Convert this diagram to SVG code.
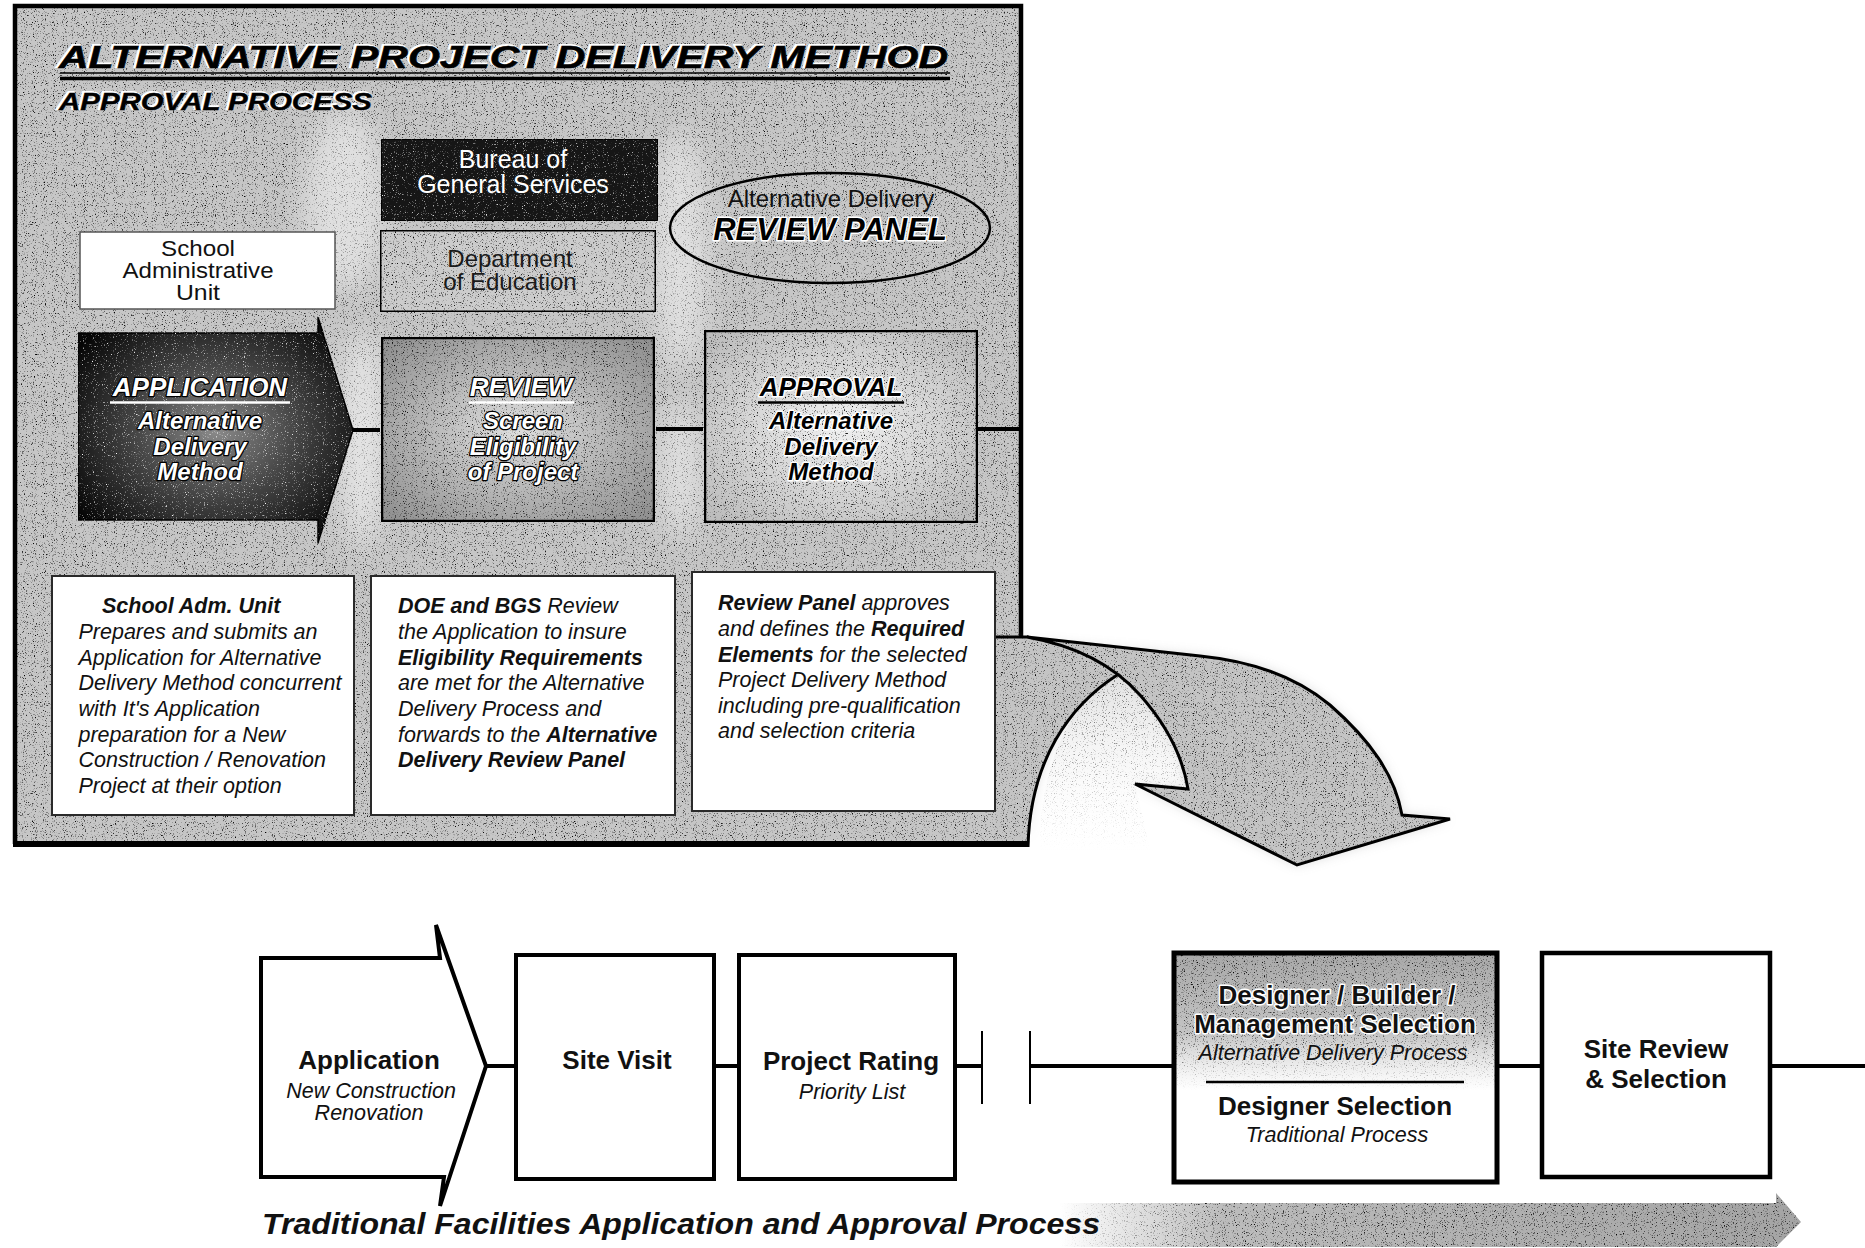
<svg xmlns="http://www.w3.org/2000/svg" width="1865" height="1248" viewBox="0 0 1865 1248">
<defs>
  <filter id="grain" x="0" y="0" width="100%" height="100%" color-interpolation-filters="sRGB">
    <feTurbulence type="fractalNoise" baseFrequency="0.9" numOctaves="2" seed="4" result="n"/>
    <feColorMatrix in="n" type="matrix" values="0 0 0 0 0  0 0 0 0 0  0 0 0 0 0  4 0 0 0 -2.35" result="a"/>
    <feComposite in="a" in2="SourceAlpha" operator="in" result="s"/>
    <feMerge><feMergeNode in="SourceGraphic"/><feMergeNode in="s"/></feMerge>
  </filter>
  <filter id="grainW" x="0" y="0" width="100%" height="100%" color-interpolation-filters="sRGB">
    <feTurbulence type="fractalNoise" baseFrequency="0.9" numOctaves="2" seed="9" result="n"/>
    <feColorMatrix in="n" type="matrix" values="0 0 0 0 1  0 0 0 0 1  0 0 0 0 1  4 0 0 0 -2.5" result="a"/>
    <feComposite in="a" in2="SourceAlpha" operator="in" result="s"/>
    <feMerge><feMergeNode in="SourceGraphic"/><feMergeNode in="s"/></feMerge>
  </filter>
  <filter id="haze" x="-20%" y="-20%" width="140%" height="140%">
    <feGaussianBlur stdDeviation="6"/>
  </filter>
  <filter id="soft" x="-50%" y="-50%" width="200%" height="200%">
    <feGaussianBlur stdDeviation="14"/>
  </filter>
  <radialGradient id="appGrad" cx="50%" cy="50%" r="62%">
    <stop offset="0" stop-color="#8a8a8a"/>
    <stop offset="0.45" stop-color="#484848"/>
    <stop offset="1" stop-color="#050505"/>
  </radialGradient>
  <radialGradient id="revGrad" cx="50%" cy="50%" r="65%">
    <stop offset="0" stop-color="#dedede"/>
    <stop offset="1" stop-color="#929292"/>
  </radialGradient>
  <radialGradient id="aprGrad" cx="50%" cy="50%" r="65%">
    <stop offset="0" stop-color="#f0f0f0"/>
    <stop offset="1" stop-color="#bdbdbd"/>
  </radialGradient>
  <linearGradient id="desGrad" x1="0" y1="0" x2="0" y2="1">
    <stop offset="0" stop-color="#a8a8a8" stop-opacity="1"/>
    <stop offset="0.35" stop-color="#bdbdbd" stop-opacity="0.9"/>
    <stop offset="0.6" stop-color="#dddddd" stop-opacity="0"/>
    <stop offset="1" stop-color="#ffffff" stop-opacity="0"/>
  </linearGradient>
  <linearGradient id="bandGrad" x1="1060" y1="0" x2="1800" y2="0" gradientUnits="userSpaceOnUse">
    <stop offset="0" stop-color="#c0c0c0" stop-opacity="0"/>
    <stop offset="0.22" stop-color="#bcbcbc" stop-opacity="1"/>
    <stop offset="1" stop-color="#a4a4a4" stop-opacity="1"/>
  </linearGradient>
  <linearGradient id="holeGrad" x1="0" y1="0" x2="0" y2="1">
    <stop offset="0" stop-color="#dadada" stop-opacity="0.8"/>
    <stop offset="1" stop-color="#ffffff" stop-opacity="0"/>
  </linearGradient>
  <style>
    text{font-family:"Liberation Sans",Arial,Helvetica,sans-serif}
    .bi{font-weight:bold;font-style:italic}
    .b{font-weight:bold}
    .i{font-style:italic}
    .c{text-anchor:middle}
    .haloW{stroke:#ffffff;stroke-width:3;paint-order:stroke;stroke-linejoin:round}
    .haloK{fill:#ffffff;stroke:#000000;stroke-width:2.6;paint-order:stroke;stroke-linejoin:round}
    .desc{font-size:21.5px;font-style:italic;fill:#111}
    .box{stroke:#000;stroke-width:4.5}
    .dbox{fill:#ffffff;stroke:#2a2a2a;stroke-width:2}
    .conn{stroke:#000;stroke-width:4;fill:none}
    .bt{font-size:26px;font-weight:bold;fill:#111}
    .bs{font-size:21.5px;font-style:italic;fill:#111}
  </style>
</defs>

<rect x="0" y="0" width="1865" height="1248" fill="#ffffff"/>

<g id="frame">
  <rect x="15" y="6" width="1006" height="838" fill="#c6c6c6" filter="url(#grain)"/>
  <ellipse cx="345" cy="200" rx="40" ry="90" fill="#fff" opacity="0.45" filter="url(#soft)"/>
  <ellipse cx="362" cy="440" rx="22" ry="110" fill="#fff" opacity="0.55" filter="url(#soft)"/>
  <ellipse cx="680" cy="250" rx="28" ry="120" fill="#fff" opacity="0.45" filter="url(#soft)"/>
  <ellipse cx="680" cy="470" rx="20" ry="70" fill="#fff" opacity="0.45" filter="url(#soft)"/>
  <path d="M1021 637 V6 H15 V844" fill="none" stroke="#000" stroke-width="4.5"/>
  <line x1="13" y1="844" x2="1029" y2="844" stroke="#000" stroke-width="6"/>
</g>

<g id="title">
  <text x="57.5" y="66.5" class="bi" font-size="31" fill="#fff" stroke="#fff" stroke-width="2" textLength="889" lengthAdjust="spacingAndGlyphs">ALTERNATIVE PROJECT DELIVERY METHOD</text>
  <text x="59" y="68" class="bi" font-size="31" fill="#000" stroke="#000" stroke-width="0.6" textLength="889" lengthAdjust="spacingAndGlyphs">ALTERNATIVE PROJECT DELIVERY METHOD</text>
  <line x1="60" y1="73" x2="950" y2="73" stroke="#000" stroke-width="1.5"/>
  <line x1="60" y1="78.5" x2="950" y2="78.5" stroke="#000" stroke-width="3.5"/>
  <text x="57.5" y="108.5" class="bi" font-size="23" fill="#fff" stroke="#fff" stroke-width="2" textLength="313" lengthAdjust="spacingAndGlyphs">APPROVAL PROCESS</text>
  <text x="59" y="110" class="bi" font-size="23" fill="#000" stroke="#000" stroke-width="0.4" textLength="313" lengthAdjust="spacingAndGlyphs">APPROVAL PROCESS</text>
</g>

<g id="connectors">
  <line class="conn" x1="352" y1="430" x2="380" y2="430"/>
  <line class="conn" x1="656" y1="429" x2="703" y2="429"/>
  <line class="conn" x1="978" y1="429" x2="1021" y2="429"/>

  <g id="flow-arrow">
    <path d="M1010 640 L1200 656 C1260 662 1300 680 1330 705 C1370 740 1395 775 1402 815 L1450 819 L1297 865 L1135 784 L1188 789 Q1180 740 1140 695 Q1130 683.75 1118 674.5 C1070 705 1030 760 1028 840 Z" fill="#a0a0a0" opacity="0.4" filter="url(#haze)"/>
    <path d="M1118 674.5 Q1130 683.75 1140 695 Q1180 740 1188 789 L1135 784 L1150 850 L1040 850 C1040 760 1070 705 1118 674.5 Z" fill="url(#holeGrad)" filter="url(#grain)"/>
    <path d="M995 637 L1027 637 L1200 656 C1260 662 1300 680 1330 705 C1370 740 1395 775 1402 815 L1450 819 L1297 865 L1135 784 L1188 789 Q1180 740 1140 695 Q1130 683.75 1118 674.5 C1070 705 1030 760 1028 847 L995 847 Z" fill="#c4c4c4" filter="url(#grain)"/>
    <path d="M995 637 L1027 637 L1200 656 C1260 662 1300 680 1330 705 C1370 740 1395 775 1402 815 L1450 819 L1297 865 L1135 784 L1188 789 Q1180 740 1140 695 Q1100 650 1027 637" fill="none" stroke="#000" stroke-width="3" stroke-linejoin="miter"/>
    <path d="M1118 674.5 C1070 705 1030 760 1028 847" fill="none" stroke="#000" stroke-width="3"/>
    <line x1="13" y1="844" x2="1029" y2="844" stroke="#000" stroke-width="6"/>
  </g>

  <line class="conn" x1="485" y1="1066" x2="516" y2="1066"/>
  <line class="conn" x1="714" y1="1066" x2="739" y2="1066"/>
  <line class="conn" x1="955" y1="1066" x2="982" y2="1066"/>
  <line x1="982" y1="1031" x2="982" y2="1104" stroke="#000" stroke-width="2"/>
  <line x1="1030" y1="1031" x2="1030" y2="1104" stroke="#000" stroke-width="2"/>
  <line class="conn" x1="1030" y1="1066" x2="1174" y2="1066"/>
  <line class="conn" x1="1497" y1="1066" x2="1542" y2="1066"/>
  <line class="conn" x1="1770" y1="1066" x2="1865" y2="1066"/>
</g>

<g id="node-bgs">
  <rect x="381" y="139" width="277" height="82" fill="#161616" stroke="#000" stroke-width="2" filter="url(#grainW)"/>
  <text x="513" y="168" class="c" font-size="25" fill="#fff">Bureau of</text>
  <text x="513" y="193" class="c" font-size="25" fill="#fff">General Services</text>
</g>

<g id="node-doe">
  <rect x="380" y="230" width="276" height="82" fill="#cccccc" stroke="#000" stroke-width="3" filter="url(#grain)"/>
  <text x="510" y="266.5" class="c" font-size="24" fill="#1a1a1a">Department</text>
  <text x="510" y="290" class="c" font-size="24" fill="#1a1a1a">of Education</text>
</g>

<g id="node-sau">
  <rect x="80" y="232" width="255" height="77" fill="#fff" stroke="#555" stroke-width="1.5"/>
  <text x="198" y="255.5" class="c" font-size="22" fill="#111" textLength="74" lengthAdjust="spacingAndGlyphs">School</text>
  <text x="198" y="277.5" class="c" font-size="22" fill="#111" textLength="151" lengthAdjust="spacingAndGlyphs">Administrative</text>
  <text x="198" y="299.5" class="c" font-size="22" fill="#111" textLength="44" lengthAdjust="spacingAndGlyphs">Unit</text>
</g>

<g id="node-panel">
  <ellipse cx="830" cy="228" rx="160" ry="55" fill="none" stroke="#000" stroke-width="2.5"/>
  <text x="831" y="207" class="c" font-size="24" fill="#111">Alternative Delivery</text>
  <text x="830" y="240" class="c bi haloW" font-size="31" fill="#000">REVIEW PANEL</text>
</g>

<g id="node-application">
  <polygon points="78,333 318,333 318,317 353,430 318,543 318,520 78,520" fill="url(#appGrad)" stroke="#000" stroke-width="1.5" filter="url(#grainW)"/>
  <text x="200" y="396" class="c bi haloK" font-size="26">APPLICATION</text>
  <line x1="110" y1="402.5" x2="290" y2="402.5" stroke="#fff" stroke-width="2.5"/>
  <text x="200" y="429" class="c bi haloK" font-size="24">Alternative</text>
  <text x="200" y="455" class="c bi haloK" font-size="24">Delivery</text>
  <text x="200" y="480" class="c bi haloK" font-size="24">Method</text>
</g>

<g id="node-review">
  <rect x="381" y="337" width="274" height="185" fill="url(#revGrad)" class="box" filter="url(#grain)"/>
  <text x="521" y="396" class="c bi haloK" font-size="26" stroke-width="2">REVIEW</text>
  <line x1="469" y1="402.5" x2="574" y2="402.5" stroke="#fff" stroke-width="2.5"/>
  <text x="523" y="429" class="c bi haloK" font-size="24" stroke-width="2">Screen</text>
  <text x="523" y="455" class="c bi haloK" font-size="24" stroke-width="2">Eligibility</text>
  <text x="523" y="480" class="c bi haloK" font-size="24" stroke-width="2">of Project</text>
</g>

<g id="node-approval">
  <rect x="704" y="330" width="274" height="193" fill="url(#aprGrad)" class="box" filter="url(#grain)"/>
  <text x="831" y="396" class="c bi haloW" font-size="26" fill="#000">APPROVAL</text>
  <line x1="758" y1="402.5" x2="904" y2="402.5" stroke="#000" stroke-width="2.5"/>
  <text x="831" y="429" class="c bi haloW" font-size="24" fill="#000">Alternative</text>
  <text x="831" y="455" class="c bi haloW" font-size="24" fill="#000">Delivery</text>
  <text x="831" y="480" class="c bi haloW" font-size="24" fill="#000">Method</text>
</g>

<g id="desc-sau">
  <rect x="52" y="576" width="302" height="239" class="dbox"/>
  <text class="desc" x="102" y="613" font-weight="bold">School Adm. Unit</text>
  <text class="desc" x="78.5" y="639">Prepares and submits an</text>
  <text class="desc" x="78.5" y="664.5">Application for Alternative</text>
  <text class="desc" x="78.5" y="690">Delivery Method concurrent</text>
  <text class="desc" x="78.5" y="716">with It's Application</text>
  <text class="desc" x="78.5" y="741.5">preparation for a New</text>
  <text class="desc" x="78.5" y="767">Construction / Renovation</text>
  <text class="desc" x="78.5" y="793">Project at their option</text>
</g>

<g id="desc-doe">
  <rect x="371" y="576" width="304" height="239" class="dbox"/>
  <text class="desc" x="398" y="613"><tspan font-weight="bold">DOE and BGS</tspan> Review</text>
  <text class="desc" x="398" y="639">the Application to insure</text>
  <text class="desc" x="398" y="664.5" font-weight="bold">Eligibility Requirements</text>
  <text class="desc" x="398" y="690">are met for the Alternative</text>
  <text class="desc" x="398" y="716">Delivery Process and</text>
  <text class="desc" x="398" y="741.5">forwards to the <tspan font-weight="bold">Alternative</tspan></text>
  <text class="desc" x="398" y="767" font-weight="bold">Delivery Review Panel</text>
</g>

<g id="desc-panel">
  <rect x="692" y="572" width="303" height="239" class="dbox"/>
  <text class="desc" x="718" y="610"><tspan font-weight="bold">Review Panel</tspan> approves</text>
  <text class="desc" x="718" y="636">and defines the <tspan font-weight="bold">Required</tspan></text>
  <text class="desc" x="718" y="662"><tspan font-weight="bold">Elements</tspan> for the selected</text>
  <text class="desc" x="718" y="687">Project Delivery Method</text>
  <text class="desc" x="718" y="713">including pre-qualification</text>
  <text class="desc" x="718" y="738">and selection criteria</text>
</g>

<g id="node-t-application">
  <polygon points="261,958 440,958 436,925 486,1066 440,1206 444,1177 261,1177" fill="#fff" stroke="#000" stroke-width="4" stroke-linejoin="miter"/>
  <text x="369" y="1069" class="c bt">Application</text>
  <text x="371" y="1098" class="c bs">New Construction</text>
  <text x="369" y="1120" class="c bs">Renovation</text>
</g>

<g id="node-site-visit">
  <rect x="516" y="955" width="198" height="224" fill="#fff" stroke="#000" stroke-width="4"/>
  <text x="617" y="1069" class="c bt">Site Visit</text>
</g>

<g id="node-project-rating">
  <rect x="739" y="955" width="216" height="224" fill="#fff" stroke="#000" stroke-width="4"/>
  <text x="851" y="1070" class="c bt">Project Rating</text>
  <text x="852" y="1099" class="c bs">Priority List</text>
</g>

<g id="node-designer">
  <rect x="1174" y="953" width="323" height="229" fill="#fff"/>
  <rect x="1174" y="953" width="323" height="229" fill="url(#desGrad)" filter="url(#grain)"/>
  <rect x="1174" y="953" width="323" height="229" fill="none" stroke="#000" stroke-width="5"/>
  <text x="1337" y="1004" class="c bt haloW" stroke-width="2">Designer / Builder /</text>
  <text x="1335" y="1033" class="c bt haloW" stroke-width="2">Management Selection</text>
  <text x="1333" y="1060" class="c bs">Alternative Delivery Process</text>
  <line x1="1206" y1="1082" x2="1464" y2="1082" stroke="#000" stroke-width="2.5"/>
  <text x="1335" y="1115" class="c bt">Designer Selection</text>
  <text x="1337" y="1142" class="c bs">Traditional Process</text>
</g>

<g id="node-site-review">
  <rect x="1542" y="953" width="228" height="224" fill="#fff" stroke="#000" stroke-width="4.5"/>
  <text x="1656" y="1058" class="c bt">Site Review</text>
  <text x="1656" y="1088" class="c bt">&amp; Selection</text>
</g>

<g id="banner">
  <path d="M1060 1203 H1776 V1193 L1801 1222 L1776 1247 H1060 Z" fill="url(#bandGrad)" filter="url(#grain)"/>
  <text x="262" y="1234" class="bi" font-size="30" fill="#111" textLength="838" lengthAdjust="spacingAndGlyphs">Traditional Facilities Application and Approval Process</text>
</g>
</svg>
